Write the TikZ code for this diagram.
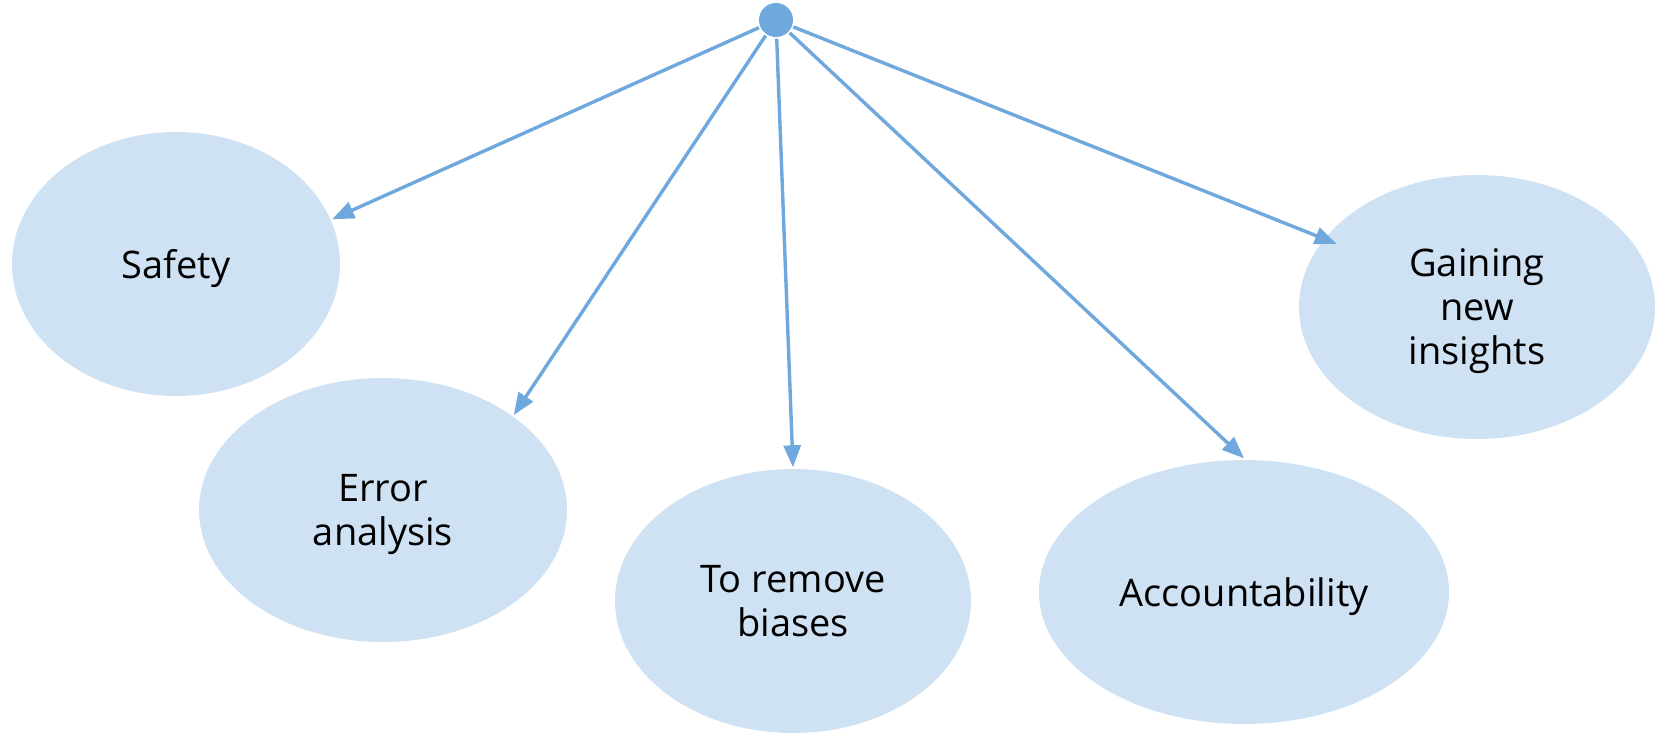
\documentclass[tikz,border=0pt]{standalone}
\usepackage{fontspec}
\setmainfont{Open Sans}
\usetikzlibrary{shapes.geometric,arrows.meta}
\definecolor{bubble}{HTML}{CFE2F3}
\definecolor{wire}{HTML}{6FA8DC}
\tikzset{
  reason/.style={ellipse, fill=bubble, inner sep=0pt, align=center,
    text depth=-1pt, font=\fontsize{38}{44}\selectfont},
  >={Triangle[length=22pt,width=17pt]},
}

\begin{document}
\begin{tikzpicture}[
  x=1pt,y=-1pt,
  ->,line width=3.4pt,
]
\useasboundingbox (0,0) rectangle (1661,733);
\node[circle, fill=wire, minimum size=34pt, inner sep=0pt] (hub) at (776,20) {};

\node[reason, minimum width=328pt, minimum height=264pt] (safety) at (176,264) {Safety};
\node[reason, minimum width=368pt, minimum height=264pt] (error) at (383,510) {Error\\analysis};
\node[reason, minimum width=356pt, minimum height=264pt] (bias) at (793,601) {To remove\\biases};
\node[reason, minimum width=410pt, minimum height=264pt] (account) at (1244,592) {Accountability};
\node[reason, minimum width=356pt, minimum height=264pt] (insight) at (1477,307) {Gaining\\new\\insights};

\draw[wire] (hub) -- (safety.16);
\draw[wire] (hub) -- (error.36);
\draw[wire] (hub) -- (bias.90);
\draw[wire] (hub) -- (account.90);
\draw[wire, shorten >=-15pt] (hub) -- (insight.156);
\end{tikzpicture}
\end{document}
